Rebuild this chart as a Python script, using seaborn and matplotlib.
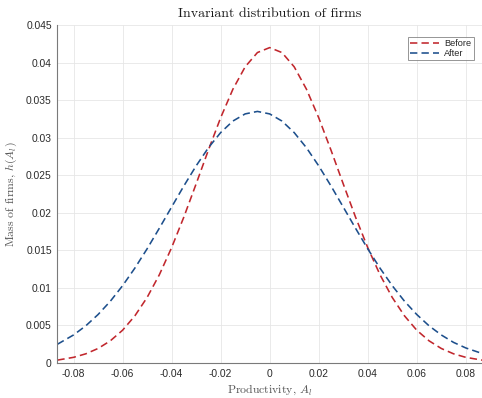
import numpy as np
import pandas as pd
import matplotlib
matplotlib.use("Agg")
import matplotlib.pyplot as plt
import seaborn as sns

# ---- data ----
productivity = [-0.0866, -0.08, -0.075, -0.07, -0.065, -0.06, -0.055, -0.05, -0.045,
                -0.04, -0.035, -0.03, -0.025, -0.02, -0.015, -0.01, -0.005, 0.0,
                0.005, 0.01, 0.015, 0.02, 0.025, 0.03, 0.035, 0.04, 0.045, 0.05,
                0.055, 0.06, 0.065, 0.07, 0.075, 0.08, 0.0866]
mass_before = [0.00038, 0.00075, 0.00122, 0.00193, 0.00295, 0.00436, 0.00627, 0.00872,
               0.01175, 0.01536, 0.01944, 0.02385, 0.02835, 0.03266, 0.03646, 0.03944,
               0.04134, 0.04200, 0.04134, 0.03944, 0.03646, 0.03266, 0.02835, 0.02385,
               0.01944, 0.01536, 0.01175, 0.00872, 0.00627, 0.00436, 0.00295, 0.00193,
               0.00122, 0.00075, 0.00038]
mass_after = [0.00249, 0.00373, 0.00495, 0.00645, 0.00822, 0.01029, 0.01263, 0.01520,
              0.01795, 0.02077, 0.02358, 0.02625, 0.02866, 0.03068, 0.03222, 0.03317,
              0.03350, 0.03317, 0.03222, 0.03068, 0.02866, 0.02625, 0.02358, 0.02077,
              0.01795, 0.01520, 0.01263, 0.01029, 0.00822, 0.00645, 0.00495, 0.00373,
              0.00274, 0.00200, 0.00127]
series_names = ["Before", "After"]
series_colors = ["#C1272D", "#1D4F8C"]
x_ticks = [-0.08, -0.06, -0.04, -0.02, 0.0, 0.02, 0.04, 0.06, 0.08]
x_tick_labels = ["-0.08", "-0.06", "-0.04", "-0.02", "0", "0.02", "0.04", "0.06", "0.08"]
y_ticks = [0, 0.005, 0.01, 0.015, 0.02, 0.025, 0.03, 0.035, 0.04, 0.045]
y_tick_labels = ["0", "0.005", "0.01", "0.015", "0.02", "0.025", "0.03", "0.035", "0.04", "0.045"]

df = pd.DataFrame({
    "x": productivity * 2,
    "y": mass_before + mass_after,
    "series": [series_names[0]] * len(productivity) + [series_names[1]] * len(productivity),
})

sns.set_theme(style="white")
plt.rcParams["mathtext.fontset"] = "cm"
plt.rcParams["axes.unicode_minus"] = False

fig = plt.figure(figsize=(4.82, 3.98), dpi=100)
ax = fig.add_axes([0.119, 0.088, 0.881, 0.849])

sns.lineplot(data=df, x="x", y="y", hue="series", palette=series_colors,
             hue_order=series_names, ax=ax, linewidth=1.15, linestyle="--",
             legend=False, sort=False)
for line in ax.get_lines():
    line.set_dashes((4.6, 2.6))

ax.set_xlim(-0.0866, 0.0866)
ax.set_ylim(0, 0.045)
ax.set_xticks(x_ticks)
ax.set_xticklabels(x_tick_labels)
ax.set_yticks(y_ticks)
ax.set_yticklabels(y_tick_labels)

ax.grid(True, color="#e6e6e6", linewidth=0.6)
ax.set_axisbelow(True)
for side in ["top", "right"]:
    ax.spines[side].set_visible(False)
for side in ["left", "bottom"]:
    ax.spines[side].set_color("#7a7a7a")
    ax.spines[side].set_linewidth(0.8)

ax.tick_params(axis="both", direction="in", length=3, width=0.6, color="#7a7a7a",
               labelsize=7.4, labelcolor="#2b2b2b", pad=4)
for lbl in ax.get_xticklabels() + ax.get_yticklabels():
    lbl.set_fontfamily("Liberation Sans")

ax.set_title("Invariant distribution of firms", fontfamily="cmr10", fontsize=10,
             color="#1a1a1a", pad=6)
ax.set_xlabel("Productivity, $A_l$", fontfamily="cmr10", fontsize=8.5,
              color="#555555", labelpad=3)
ax.set_ylabel("Mass of firms, $h(A_l)$", fontfamily="cmr10", fontsize=8.5,
              color="#555555", labelpad=5)

handles = ax.get_lines()[:2]
leg = ax.legend(handles, series_names, loc="upper right",
                bbox_to_anchor=(0.985, 0.97), frameon=True, fancybox=False,
                prop={"family": "Liberation Sans", "size": 6.6},
                handlelength=3.1, handletextpad=0.6, borderpad=0.25,
                labelspacing=0.05, borderaxespad=0.2)
leg.get_frame().set_edgecolor("#7a7a7a")
leg.get_frame().set_linewidth(0.7)

fig.savefig("out.png", dpi=100)
